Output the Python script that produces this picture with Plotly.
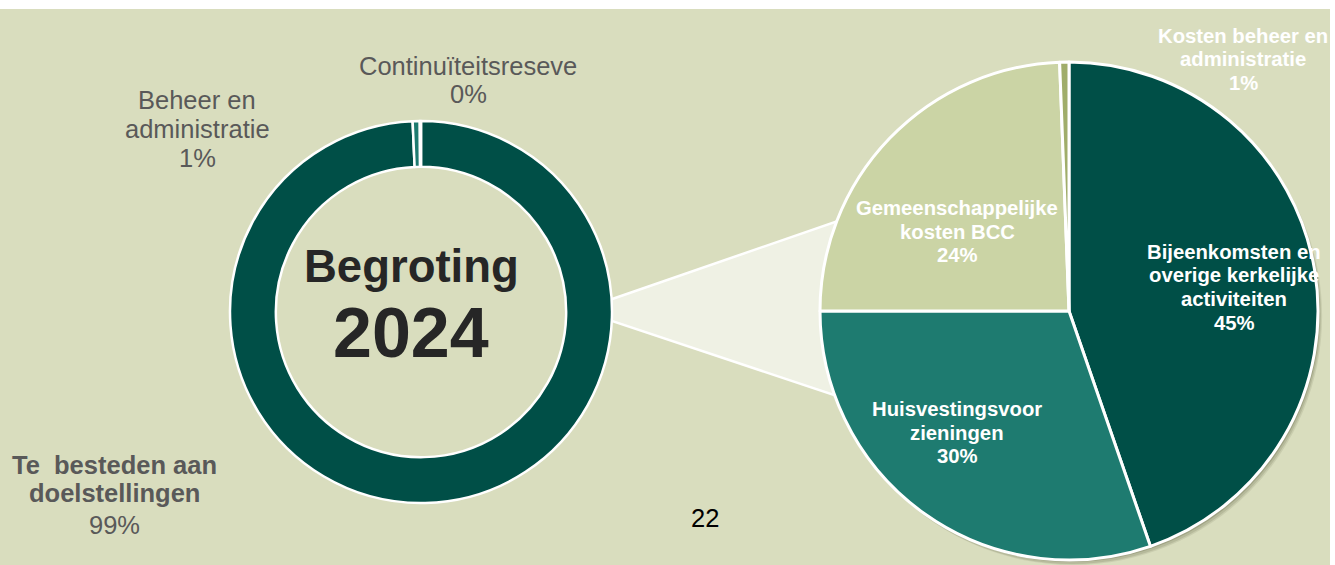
import plotly.graph_objects as go

W, H = 1335, 565

# ---------------- data ----------------
donut_labels = ["Te  besteden aan<br>doelstellingen", "Beheer en<br>administratie", "Continuïteitsreseve"]
donut_values = [99.3, 0.6, 0.1]
donut_colors = ["#004f47", "#1e7b70", "#1e7b70"]

pie_labels = ["Bijeenkomsten en<br>overige kerkelijke<br>activiteiten", "Huisvestingsvoor<br>zieningen",
              "Gemeenschappelijke<br>kosten BCC", "Kosten beheer en<br>administratie"]
pie_values = [44.7, 30.3, 24.4, 0.6]
pie_colors = ["#004f47", "#1e7b70", "#cbd4a5", "#a0ad6a"]

center_title = ["Begroting", "2024"]
page_number = "22"

BG = "#d9ddbe"
FONT = "Liberation Sans, Arial, sans-serif"


def X(px):
    return min(max(px / W, 0), 1)


def Y(py):
    return min(max(1 - py / H, 0), 1)


def pct(vals):
    s = sum(vals)
    return [f"{round(v / s * 100)}%" for v in vals]


fig = go.Figure()

# donut (left)
dcx, dcy, dr = 421, 312, 191
fig.add_trace(go.Pie(
    labels=[l.replace("<br>", " ") for l in donut_labels], values=donut_values,
    marker=dict(colors=donut_colors, line=dict(color="white", width=2.5)),
    hole=0.76, sort=False, direction="clockwise", rotation=0,
    textinfo="none", showlegend=False,
    domain=dict(x=[X(dcx - dr), X(dcx + dr)], y=[Y(dcy + dr), Y(dcy - dr)]),
))

# shadow of the right pie
pcx, pcy, pr = 1069, 311, 249
for (ox, oy), a in [((4, 5), 0.10), ((3, 4), 0.14), ((2, 2), 0.2)]:
    fig.add_trace(go.Pie(
        values=[1], labels=["s"], marker=dict(colors=[f"rgba(70,70,40,{a})"], line=dict(width=0)),
        textinfo="none", showlegend=False, hoverinfo="skip", sort=False,
        domain=dict(x=[X(pcx - pr + ox), X(pcx + pr + ox)], y=[Y(pcy + pr + oy), Y(pcy - pr + oy)]),
    ))

# right pie
fig.add_trace(go.Pie(
    labels=[l.replace("<br>", " ") for l in pie_labels], values=pie_values,
    marker=dict(colors=pie_colors, line=dict(color="white", width=3)),
    sort=False, direction="clockwise", rotation=0,
    textinfo="none", showlegend=False,
    domain=dict(x=[X(pcx - pr), X(pcx + pr)], y=[Y(pcy + pr), Y(pcy - pr)]),
))

shapes = []
# white strip on top / right
shapes.append(dict(type="rect", xref="paper", yref="paper", x0=0, x1=1, y0=Y(9), y1=1.01,
                   fillcolor="white", line=dict(width=0), layer="below"))
shapes.append(dict(type="rect", xref="paper", yref="paper", x0=1330 / W, x1=1.01, y0=-0.01, y1=1.01,
                   fillcolor="white", line=dict(width=0), layer="below"))
# connector wedge
pts = [(605, 301.5), (900, 199.5), (900, 417), (605, 318.7)]
path = "M " + " L ".join(f"{X(a):.5f},{Y(b):.5f}" for a, b in pts) + " Z"
shapes.append(dict(type="path", xref="paper", yref="paper", path=path,
                   fillcolor="#eff1e4", line=dict(color="white", width=2.5), layer="below"))

ann = []


def add_lines(lines, cx, ys, size, color, bolds):
    for line, y, b in zip(lines, ys, bolds):
        ann.append(dict(text=f"<b>{line}</b>" if b else line, x=X(cx), y=Y(y), xref="paper", yref="paper",
                        xanchor="center", yanchor="middle", showarrow=False,
                        font=dict(family=FONT, size=size, color=color)))


dp = pct(donut_values)
# donut labels (outside)
l0 = donut_labels[0].split("<br>") + [dp[0]]
add_lines(l0, 114, [465, 493, 525], 25.5, "#595959", [True, True, False])
l1 = donut_labels[1].split("<br>") + [dp[1]]
add_lines(l1, 197, [100, 129, 158], 25.5, "#595959", [False, False, False])
l2 = donut_labels[2].split("<br>") + [dp[2]]
add_lines(l2, 468, [66, 94], 25.5, "#595959", [False, False])

# centre title
add_lines([center_title[0]], 411, [266], 45.5, "#262626", [True])
add_lines([center_title[1]], 411, [333], 70, "#262626", [True])

# page number
add_lines([page_number], 705, [518], 25.5, "#000000", [False])

pp = pct(pie_values)
pie_pos = [(1234, [252, 275, 299, 323]), (957, [409, 433, 456]), (957, [208, 232, 255]), (1243, [36, 59, 83])]
for lab, p, (cx, ys) in zip(pie_labels, pp, pie_pos):
    lines = lab.split("<br>") + [p]
    add_lines(lines, cx, ys, 20.3, "white", [True] * len(lines))

fig.update_layout(
    width=W, height=H, margin=dict(l=0, r=0, t=0, b=0),
    paper_bgcolor=BG, plot_bgcolor=BG,
    shapes=shapes, annotations=ann, showlegend=False,
)

fig.write_html("out.html", config={"displayModeBar": False},
               post_script="document.body.style.margin='0';")
